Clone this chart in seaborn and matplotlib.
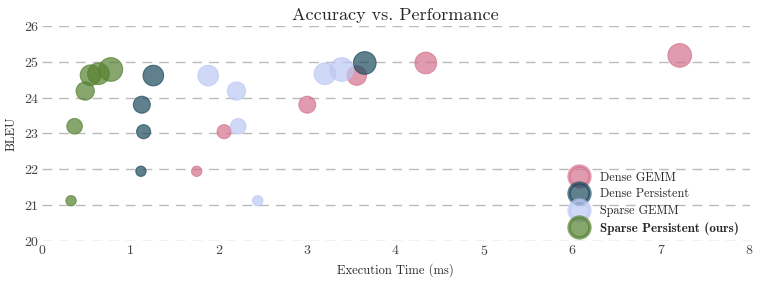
import matplotlib
matplotlib.use('Agg')
import matplotlib.pyplot as plt
from matplotlib.lines import Line2D
import seaborn as sns
import pandas as pd

# execution time (ms) and BLEU, size = model level
dense_gemm_time = [1.75, 2.06, 3.00, 3.56, 4.34, 7.21]
dense_gemm_bleu = [21.95, 23.05, 23.80, 24.61, 24.96, 25.17]
dense_gemm_size = [1, 2, 3, 4, 5, 6]

dense_pers_time = [1.12, 1.15, 1.13, 1.26, 3.65]
dense_pers_bleu = [21.95, 23.05, 23.80, 24.61, 24.96]
dense_pers_size = [1, 2, 3, 4.5, 5.5]

sparse_gemm_time = [2.44, 2.22, 2.20, 1.88, 3.20, 3.39]
sparse_gemm_bleu = [21.13, 23.20, 24.18, 24.61, 24.66, 24.78]
sparse_gemm_size = [1, 2.5, 3.5, 4.5, 5, 6]

sparse_pers_time = [0.33, 0.37, 0.49, 0.55, 0.64, 0.78]
sparse_pers_bleu = [21.13, 23.20, 24.18, 24.62, 24.66, 24.78]
sparse_pers_size = [1, 2.5, 3.5, 4.5, 5, 6]

methods = ['Dense GEMM', 'Dense Persistent', 'Sparse GEMM', 'Sparse Persistent (ours)']
colors = ['#d3728c', '#1c4a5e', '#bcc8f4', '#55802f']

frames = []
for name, t, b, s in zip(methods,
                         [dense_gemm_time, dense_pers_time, sparse_gemm_time, sparse_pers_time],
                         [dense_gemm_bleu, dense_pers_bleu, sparse_gemm_bleu, sparse_pers_bleu],
                         [dense_gemm_size, dense_pers_size, sparse_gemm_size, sparse_pers_size]):
    frames.append(pd.DataFrame({'time': t, 'bleu': b, 'size': s, 'method': name}))
df = pd.concat(frames, ignore_index=True)

sns.set_style('white')
plt.rcParams['font.family'] = ['cmr10', 'DejaVu Serif']
plt.rcParams['axes.formatter.use_mathtext'] = True

fig, ax = plt.subplots(figsize=(7.61, 2.84), dpi=100)
for y in range(20, 27):
    ax.axhline(y, color='#bbbbbb', lw=1.0, ls=(0, (7, 5)), zorder=0)

sns.scatterplot(data=df, x='time', y='bleu', hue='method', size='size',
                palette=colors, hue_order=methods, sizes=(55, 290),
                alpha=0.7, linewidth=0.8, legend=False, ax=ax, zorder=3)
for coll in ax.collections:
    coll.set_edgecolors(coll.get_facecolors())

handles = [Line2D([], [], ls='none', marker='o', markersize=15, color=c,
                  markerfacecolor=c, markeredgecolor=c, markeredgewidth=2.5,
                  alpha=0.7, label=name) for name, c in zip(methods, colors)]
leg = ax.legend(handles=handles, loc='lower right', bbox_to_anchor=(1.0, -0.02),
                frameon=False, fontsize=8.8, handletextpad=0.7, labelspacing=0.38,
                handlelength=2.0)
leg.get_texts()[3].set_fontfamily('cmb10')
leg.get_texts()[3].set_fontsize(9.4)

ax.set_xlim(0, 8)
ax.set_ylim(20, 26)
ax.set_yticks(range(20, 27))
ax.set_xticks(range(0, 9))
ax.tick_params(labelsize=10, colors='#444444', length=0, pad=2)
sns.despine(ax=ax, left=True, bottom=True)
ax.set_xlabel('Execution Time (ms)', fontsize=9)
ax.set_ylabel('BLEU', fontsize=9)
ax.set_title('Accuracy vs. Performance', fontsize=13, pad=4)

plt.subplots_adjust(left=0.055, right=0.985, top=0.91, bottom=0.15)
plt.savefig('out.png', dpi=100)
